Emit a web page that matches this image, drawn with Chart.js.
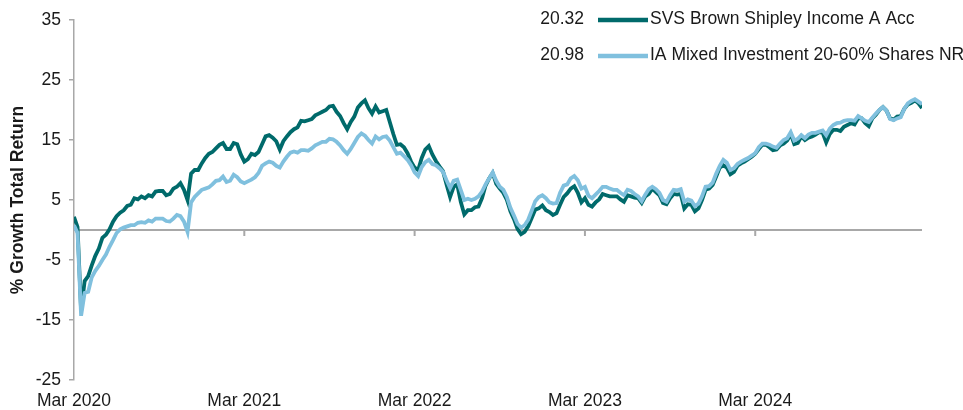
<!DOCTYPE html>
<html>
<head>
<meta charset="utf-8">
<script src="https://cdn.jsdelivr.net/npm/chart.js@4.4.1/dist/chart.umd.min.js"></script>
<style>
    html, body { margin: 0; padding: 0; background: #fff; }
    #wrap { width: 963px; height: 410px; position: relative; }
</style>
</head>
<body>
<div id="wrap"><canvas id="growth_chart"></canvas></div>
<script>
// four readings per month, starting Mar 2020
const periodsPerYear = 48;

const fundName = 'SVS Brown Shipley Income A Acc';
const sectorName = 'IA Mixed Investment 20-60% Shares NR';
const latestValues = ['20.32', '20.98'];
const tickLabels = ['Mar 2020', 'Mar 2021', 'Mar 2022', 'Mar 2023', 'Mar 2024'];

const fundValues = [
    2.2, 0.5, -13.5, -8.5, -7.7, -5.9, -4.3, -3.1, -1.3, -0.8,
    0.1, 1.4, 2.3, 2.9, 3.3, 4.0, 4.2, 5.3, 5.1, 5.6,
    5.3, 5.8, 5.6, 6.4, 6.5, 6.5, 5.8, 6.0, 6.9, 7.2,
    7.8, 6.7, 5.0, 9.4, 10.0, 10.0, 11.1, 12.0, 12.7, 13.0,
    13.6, 14.2, 14.5, 13.5, 13.5, 14.5, 14.3, 12.6, 11.4, 11.8,
    12.7, 12.5, 13.0, 14.3, 15.6, 15.8, 15.4, 14.8, 13.4, 14.8,
    15.6, 16.3, 16.8, 17.1, 18.2, 18.1, 18.3, 18.5, 19.1, 19.4,
    19.7, 20.0, 20.6, 20.7, 19.7, 19.0, 17.8, 16.8, 18.0, 18.9,
    20.4, 21.1, 21.6, 20.3, 19.4, 20.6, 19.6, 19.8, 20.0, 18.0,
    16.0, 14.2, 14.3, 13.8, 12.8, 11.4, 10.4, 10.0, 12.0, 13.4,
    14.0, 12.6, 11.5, 10.6, 9.8, 7.6, 5.5, 7.2, 7.6, 4.7,
    2.6, 3.3, 3.3, 3.8, 3.9, 5.3, 7.4, 8.6, 9.5, 7.7,
    6.9, 6.2, 5.0, 3.1, 1.8, 0.2, -0.7, -0.3, 0.6, 2.0,
    3.4, 3.6, 4.1, 3.3, 3.0, 2.5, 2.8, 4.2, 5.5, 6.1,
    6.9, 7.3, 6.2, 4.6, 5.3, 4.2, 3.9, 4.6, 5.1, 6.0,
    5.8, 5.6, 5.6, 5.6, 5.1, 4.7, 5.8, 5.6, 5.4, 5.3,
    4.5, 5.6, 6.0, 6.9, 6.3, 5.8, 4.5, 4.3, 5.3, 6.0,
    5.9, 6.0, 3.6, 4.3, 4.2, 3.1, 3.6, 5.0, 6.7, 6.9,
    7.5, 8.9, 10.4, 10.8, 10.4, 9.3, 9.7, 10.7, 11.1, 11.4,
    11.8, 12.2, 12.7, 13.5, 14.2, 14.2, 13.8, 13.3, 13.4, 14.1,
    14.4, 14.9, 16.0, 14.3, 14.5, 15.6, 15.0, 15.4, 15.6, 15.9,
    16.3, 16.2, 14.6, 16.0, 16.7, 16.7, 16.5, 17.2, 17.5, 17.8,
    17.6, 18.6, 18.6, 17.8, 17.3, 18.6, 19.2, 20.0, 20.5, 19.9,
    18.6, 18.4, 18.9, 19.0, 20.2, 20.9, 21.2, 21.6, 21.1, 20.32
];

const sectorValues = [
    0.8, -0.5, -14.3, -10.5, -10.3, -7.9, -6.8, -6.0, -5.0, -4.1,
    -2.8, -1.7, -0.5, 0.1, 0.4, 0.6, 0.8, 0.8, 1.2, 1.3,
    1.2, 1.6, 1.4, 1.9, 1.9, 1.9, 1.5, 1.4, 1.9, 2.5,
    2.3, 1.4, -0.3, 4.6, 5.5, 6.1, 6.7, 6.9, 7.1, 7.6,
    8.2, 8.3, 8.9, 8.0, 8.2, 9.2, 8.8, 8.1, 7.8, 8.1,
    8.4, 8.8, 9.5, 10.7, 11.1, 11.4, 11.2, 10.7, 10.4, 11.4,
    12.2, 12.9, 13.1, 12.9, 13.3, 13.3, 13.2, 13.6, 14.1, 14.4,
    14.7, 14.7, 15.2, 15.1, 14.7, 14.1, 13.3, 12.7, 13.5, 14.5,
    15.5, 16.1, 15.7, 15.0, 14.4, 15.6, 15.1, 15.5, 15.6, 14.9,
    13.8, 12.7, 12.9, 12.3, 11.7, 10.8, 9.6, 9.0, 10.5, 11.3,
    11.7, 11.0, 10.8, 10.3, 9.7, 8.3, 7.0, 8.2, 8.4, 6.7,
    5.0, 5.2, 5.0, 5.2, 5.6, 6.4, 7.6, 8.6, 9.6, 8.2,
    7.2, 6.7, 5.5, 3.7, 2.4, 1.0, 0.4, 0.8, 1.7, 3.2,
    4.8, 5.5, 5.8, 5.3, 4.6, 4.4, 4.5, 6.2, 7.4, 7.6,
    8.6, 9.0, 8.3, 6.9, 7.2, 5.7, 5.3, 5.9, 6.5, 7.2,
    7.2, 6.9, 6.7, 6.7, 6.2, 5.8, 6.7, 6.5, 6.0, 5.6,
    4.8, 5.9, 6.8, 7.2, 6.8, 6.2, 5.0, 4.7, 5.8, 6.7,
    6.6, 6.8, 4.7, 5.1, 4.9, 4.0, 4.4, 5.6, 7.2, 7.3,
    7.9, 9.4, 10.7, 11.7, 11.2, 10.0, 10.3, 11.0, 11.4, 11.7,
    12.0, 12.4, 12.8, 13.8, 14.4, 14.4, 14.2, 13.9, 13.7, 14.4,
    15.0, 15.3, 16.3, 14.9, 15.2, 15.8, 15.3, 15.9, 16.2, 16.2,
    16.4, 16.6, 15.8, 16.9, 17.5, 17.8, 17.9, 18.2, 18.3, 18.3,
    18.2, 19.0, 18.6, 18.2, 18.0, 18.7, 19.4, 20.0, 20.5, 19.9,
    18.5, 18.3, 18.6, 18.8, 20.2, 21.1, 21.5, 21.8, 21.4, 20.98
];

const fundColor = '#006a6b';
const sectorColor = '#80c0de';
const axisGray = '#a8a8a8';
const textColor = '#1a1a1a';
const fontFamily = '"Liberation Sans", Arial, sans-serif';
const fontSize = 17.5;

function toPoints(values) {
    return values.map((v, i) => ({ x: i / periodsPerYear, y: v }));
}

// zero line with small year ticks hanging from it
const zeroLinePlugin = {
    id: 'zeroLine',
    beforeDatasetsDraw(chart) {
        const { ctx, chartArea, scales } = chart;
        const y0 = scales.y.getPixelForValue(0);
        ctx.save();
        ctx.strokeStyle = axisGray;
        ctx.lineWidth = 2;
        ctx.beginPath();
        ctx.moveTo(chartArea.left, y0);
        ctx.lineTo(chartArea.right, y0);
        for (let i = 1; i < tickLabels.length; i++) {
            const x = scales.x.getPixelForValue(i);
            ctx.moveTo(x, y0);
            ctx.lineTo(x, y0 + 6);
        }
        ctx.stroke();
        ctx.restore();
    }
};

// legend: latest value, line sample, series name
const valueLegendPlugin = {
    id: 'valueLegend',
    afterDraw(chart) {
        const { ctx } = chart;
        ctx.save();
        ctx.font = fontSize + 'px ' + fontFamily;
        ctx.textBaseline = 'middle';
        ctx.fillStyle = textColor;
        chart.data.datasets.forEach((ds, i) => {
            const rowY = 19 + i * 36;
            ctx.textAlign = 'right';
            ctx.fillText(latestValues[i], 584, rowY);
            ctx.strokeStyle = ds.borderColor;
            ctx.lineWidth = 4.5;
            ctx.beginPath();
            ctx.moveTo(598, rowY + 1);
            ctx.lineTo(648, rowY + 1);
            ctx.stroke();
            ctx.textAlign = 'left';
            ctx.fillText(ds.label, 650, rowY);
        });
        ctx.restore();
    }
};

const config = {
    type: 'line',
    data: {
        datasets: [{
            label: fundName,
            data: toPoints(fundValues),
            borderColor: fundColor,
            borderWidth: 3.8,
            pointRadius: 0,
            tension: 0,
            order: 1
        }, {
            label: sectorName,
            data: toPoints(sectorValues),
            borderColor: sectorColor,
            borderWidth: 3.8,
            pointRadius: 0,
            tension: 0,
            order: 0
        }]
    },
    options: {
        responsive: true,
        maintainAspectRatio: false,
        animation: false,
        layout: {
            padding: { top: 20, right: 41, left: 0, bottom: 0 }
        },
        plugins: {
            legend: { display: false },
            tooltip: { enabled: false }
        },
        scales: {
            x: {
                type: 'linear',
                min: 0,
                max: (fundValues.length - 1) / periodsPerYear,
                afterBuildTicks(scale) {
                    scale.ticks = tickLabels.map((_, i) => ({ value: i }));
                },
                afterFit(scale) {
                    scale.height = 30;
                },
                grid: { display: false },
                border: { display: false },
                ticks: {
                    autoSkip: false,
                    maxRotation: 0,
                    padding: 3,
                    color: textColor,
                    font: { family: fontFamily, size: fontSize },
                    callback: (value) => tickLabels[value]
                }
            },
            y: {
                min: -25,
                max: 35,
                afterFit(scale) {
                    scale.width = 74;
                },
                grid: {
                    drawOnChartArea: false,
                    drawTicks: true,
                    tickLength: 5,
                    color: axisGray,
                    lineWidth: 1.5
                },
                border: { display: true, color: axisGray, width: 1.5 },
                ticks: {
                    stepSize: 10,
                    padding: 8,
                    color: textColor,
                    font: { family: fontFamily, size: fontSize }
                },
                title: {
                    display: true,
                    text: '% Growth Total Return',
                    color: textColor,
                    padding: { top: 8, bottom: 0 },
                    font: { family: fontFamily, size: fontSize, weight: 'bold' }
                }
            }
        }
    },
    plugins: [zeroLinePlugin, valueLegendPlugin]
};

let chart = new Chart(document.getElementById('growth_chart'), config);
</script>
</body>
</html>
